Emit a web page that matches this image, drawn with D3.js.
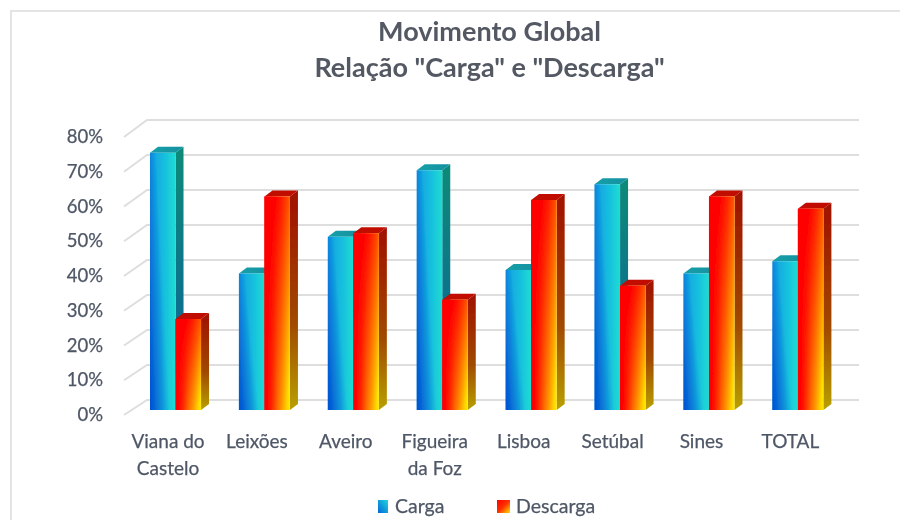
<!DOCTYPE html>
<html><head><meta charset="utf-8">
<style>html,body{margin:0;padding:0;background:#fff}svg{display:block}text{font-family:Lato,"Open Sans",sans-serif}</style>
<script src="https://cdn.jsdelivr.net/npm/d3@7/dist/d3.min.js"></script>
</head><body><svg id="c" width="900" height="520"></svg>
<script>
const categories = [["Viana do","Castelo"],["Leixões"],["Aveiro"],["Figueira","da Foz"],["Lisboa"],["Setúbal"],["Sines"],["TOTAL"]];
const carga = [73.5,39,49.5,68.5,40,64.5,39,42.5];
const descarga = [26,61,50.5,31.5,60,35.5,61,57.5];
const yTicks = [0,10,20,30,40,50,60,70,80];
const titleLines = ["Movimento Global",'Relação "Carga" e "Descarga"'];
const legendNames = ["Carga","Descarga"];

const svg = d3.select("#c");
const defs = svg.append("defs");
defs.append("filter").attr("id","soft").append("feGaussianBlur").attr("stdDeviation",0.45);
function grad(id, stops, x1,y1,x2,y2){
  const g = defs.append("linearGradient").attr("id",id).attr("x1",x1).attr("y1",y1).attr("x2",x2).attr("y2",y2);
  stops.forEach(s=>g.append("stop").attr("offset",s[0]).attr("stop-color",s[1]).attr("stop-opacity",s[2]===undefined?1:s[2]));
}
grad("cf",[[0,"#0f9ce2"],[0.55,"#16bede"],[1,"#20dcd2"]],0,0,1,0);
grad("co",[[0,"#0048d0",0.85],[0.75,"#0048d0",0],[1,"#0048d0",0]],0.05,1,0.8,0.6);
grad("cs",[[0,"#0f8a78"],[1,"#0a5f9c"]],0,0,0,1);
grad("ct",[[0,"#1aa0a8"],[1,"#1090a0"]],0,0,1,0);
grad("df",[[0,"#ff0000"],[0.12,"#ff0800"],[0.5,"#ff8a00"],[1,"#ffea00"]],0,0,1,0);
grad("do",[[0,"#ff0000",1],[1,"#ff0000",0]],0.2,0.2,0.9,0.95);
grad("ds",[[0,"#a01000"],[0.6,"#a04800"],[1,"#b8a000"]],0,0,0,1);
grad("lc",[[0,"#0068d8"],[1,"#22d4dc"]],0,1,1,0);
grad("ld",[[0,"#ff0000"],[0.5,"#ff3000"],[1,"#ffe000"]],0,0,1,1);

const root = svg.append("g").attr("filter","url(#soft)");
root.append("path").attr("d","M900,11H11V520").attr("fill","none").attr("stroke","#e4e4e4").attr("stroke-width",2);

const x = d3.scaleBand().domain(d3.range(categories.length)).range([126,847.4]).paddingInner(0.426).paddingOuter(0.27);
const inner = d3.scaleBand().domain([0,1]).range([0,x.bandwidth()]);
const y = d3.scaleLinear().domain([0,80]).range([410,130]);
const yWall = d3.scaleLinear().domain([0,80]).range([400,120]);
const yFloor = d3.scaleLinear().domain([0,80]).range([415,137]);
const wallX0 = 147, wallX1 = 859, diagX0 = 124;
const depthX = 8, depthY = 6;

root.append("g").selectAll("path").data(yTicks).join("path")
  .attr("d",d=>`M${diagX0},${yFloor(d)}L${wallX0},${yWall(d)}H${wallX1}`)
  .attr("fill","none").attr("stroke","#dedede").attr("stroke-width",2);

const textCol = "#4f5766";
root.append("g").selectAll("text").data(yTicks).join("text")
  .attr("x",103).attr("y",d=>yFloor(d)+6).attr("text-anchor","end")
  .attr("font-size",18.5).attr("fill",textCol).attr("stroke",textCol).attr("stroke-width",0.25).text(d=>d+"%");

const series = [
  {vals:carga,f:"url(#cf)",o:"url(#co)",s:"url(#cs)",t:"url(#ct)",l:"url(#lc)",k:0},
  {vals:descarga,f:"url(#df)",o:"url(#do)",s:"url(#ds)",t:"#c00a00",l:"url(#ld)",k:1}
];
const bars = root.append("g");
categories.forEach((c,i)=>{
  series.forEach(sr=>{
    const v = sr.vals[i], x0 = x(i)+inner(sr.k), w = inner.bandwidth(), yt = y(v), yb = y(0);
    const g = bars.append("g");
    g.append("path").attr("d",`M${x0+w},${yt}l${depthX},${-depthY}V${yb-depthY}l${-depthX},${depthY}Z`).attr("fill",sr.s);
    g.append("path").attr("d",`M${x0},${yt}l${depthX},${-depthY}h${w}l${-depthX},${depthY}Z`).attr("fill",sr.t);
    g.append("rect").attr("x",x0).attr("y",yt).attr("width",w).attr("height",yb-yt).attr("fill",sr.f);
    g.append("rect").attr("x",x0).attr("y",yt).attr("width",w).attr("height",yb-yt).attr("fill",sr.o);
  });
});

const xl = root.append("g").selectAll("text").data(categories).join("text")
  .attr("text-anchor","middle").attr("font-size",19).attr("fill",textCol).attr("stroke",textCol).attr("stroke-width",0.25)
  .attr("transform",(d,i)=>`translate(${x(i)+x.bandwidth()/2-7.5},448)`);
xl.selectAll("tspan").data(d=>d).join("tspan").attr("x",0).attr("dy",(d,i)=>i?27:0).text(d=>d);

root.append("g").selectAll("text").data(titleLines).join("text")
  .attr("x",489.5).attr("y",(d,i)=>41+i*36).attr("text-anchor","middle")
  .attr("font-size",27).attr("font-weight",700).attr("fill","#535964").text(d=>d);

const legendX = [378,497], legendTextX = [395,516];
const lg = root.append("g").selectAll("g").data(legendNames).join("g");
lg.append("rect").attr("x",(d,i)=>legendX[i]).attr("y",500).attr("width",(d,i)=>i?13:10).attr("height",13)
  .attr("fill",(d,i)=>series[i].l);
lg.append("text").attr("x",(d,i)=>legendTextX[i]).attr("y",513).attr("font-size",19.5)
  .attr("fill",textCol).attr("stroke",textCol).attr("stroke-width",0.25).text(d=>d);
</script></body></html>
